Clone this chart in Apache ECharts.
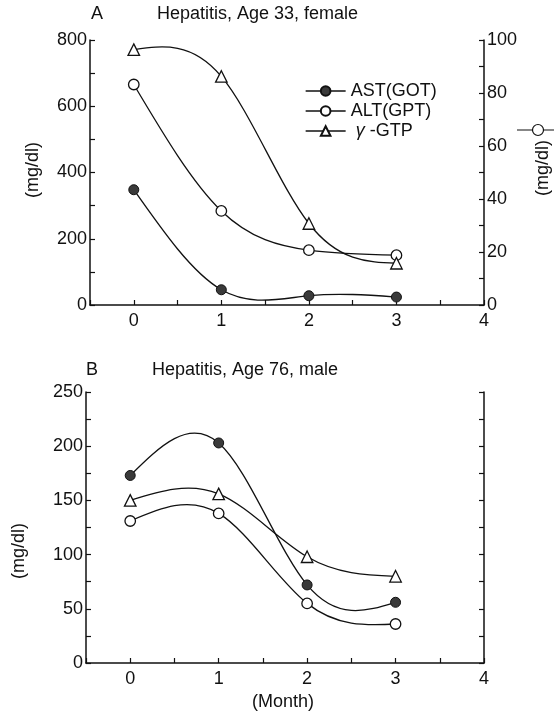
<!DOCTYPE html>
<html>
<head>
<meta charset="utf-8">
<script src="https://cdn.jsdelivr.net/npm/echarts@6/dist/echarts.min.js"></script>
<style>
  html, body { margin: 0; padding: 0; background: #fff; }
  #chart { width: 554px; height: 712px; }
</style>
</head>
<body>
<div id="chart"></div>
<script>
// ---- data ----
var months = [0, 1, 2, 3];
var seriesNames = ['AST(GOT)', 'ALT(GPT)', 'γ-GTP'];
// Panel A: Hepatitis, Age 33, female
var astA = [348, 46, 28, 24];        // left axis (mg/dl)
var altA = [83.2, 35.5, 20.7, 18.8]; // right axis (mg/dl)
var gtpA = [771, 690, 246, 126];     // left axis (mg/dl)
// Panel B: Hepatitis, Age 76, male
var astB = [173, 203, 72, 56];
var altB = [131, 138, 55, 36];
var gtpB = [150, 156, 98, 80];
// tick labels
var xTicks = [0, 1, 2, 3, 4];
var yTicksALeft = [0, 200, 400, 600, 800];
var yTicksARight = [0, 20, 40, 60, 80, 100];
var yTicksB = [0, 50, 100, 150, 200, 250];

function pairs(vals) { return months.map(function (m, i) { return [m, vals[i]]; }); }
function only(list) { return function (v) { return list.indexOf(v) >= 0 ? String(v) : ''; }; }

var FONT = 'Liberation Sans, Arial, sans-serif';
var FS = 18;
var BLACK = '#111';

var styles = {
  'AST(GOT)': { symbol: 'circle', symbolSize: 10, itemStyle: { color: '#3a3a3a', borderColor: '#111', borderWidth: 1 } },
  'ALT(GPT)': { symbol: 'circle', symbolSize: 10.5, itemStyle: { color: '#fff', borderColor: '#111', borderWidth: 1.3 } },
  'γ-GTP':    { symbol: 'triangle', symbolSize: 11.5, itemStyle: { color: '#fff', borderColor: '#111', borderWidth: 1.3 } }
};

// natural cubic spline slopes (data space) for x = months (uniform spacing)
function splineSlopes(xs, ys) {
  var n = ys.length - 1, h = xs[1] - xs[0];
  var M = new Array(n + 1).fill(0);
  var a = [], b = [], c = [], d = [];
  for (var i = 1; i < n; i++) {
    a.push(1); b.push(4); c.push(1);
    d.push(6 * (ys[i + 1] - 2 * ys[i] + ys[i - 1]) / (h * h));
  }
  var m = d.length;
  for (var k = 1; k < m; k++) {
    var w = a[k] / b[k - 1];
    b[k] -= w * c[k - 1];
    d[k] -= w * d[k - 1];
  }
  var sol = new Array(m);
  for (k = m - 1; k >= 0; k--) sol[k] = (d[k] - (k < m - 1 ? c[k] * sol[k + 1] : 0)) / b[k];
  for (k = 0; k < m; k++) M[k + 1] = sol[k];
  var s = [];
  for (i = 0; i < n; i++) s.push((ys[i + 1] - ys[i]) / h - h * (2 * M[i] + M[i + 1]) / 6);
  s.push((ys[n] - ys[n - 1]) / h + h * (M[n - 1] + 2 * M[n]) / 6);
  return s;
}

function curveSeries(vals, xi, yi) {
  var slopes = splineSlopes(months, vals);
  return {
    type: 'custom', coordinateSystem: 'cartesian2d', xAxisIndex: xi, yAxisIndex: yi,
    data: pairs(vals), silent: true, clip: false, z: 1,
    renderItem: function (params, api) {
      if (params.dataIndex !== 0) return null;
      var children = [];
      for (var i = 0; i < months.length - 1; i++) {
        var h = months[i + 1] - months[i];
        var p0 = api.coord([months[i], vals[i]]);
        var p3 = api.coord([months[i + 1], vals[i + 1]]);
        var c1 = api.coord([months[i] + h / 3, vals[i] + slopes[i] * h / 3]);
        var c2 = api.coord([months[i + 1] - h / 3, vals[i + 1] - slopes[i + 1] * h / 3]);
        children.push({
          type: 'bezierCurve',
          shape: { x1: p0[0], y1: p0[1], x2: p3[0], y2: p3[1], cpx1: c1[0], cpy1: c1[1], cpx2: c2[0], cpy2: c2[1] },
          style: { stroke: BLACK, lineWidth: 1.3, fill: null }
        });
      }
      return { type: 'group', children: children };
    }
  };
}

function markSeries(name, vals, xi, yi) {
  var s = styles[name];
  return {
    name: name, type: 'line', xAxisIndex: xi, yAxisIndex: yi,
    data: pairs(vals),
    symbol: s.symbol, symbolSize: s.symbolSize, showSymbol: true,
    itemStyle: s.itemStyle,
    lineStyle: { color: BLACK, width: 0, opacity: 0 },
    emphasis: { disabled: true }, z: name === 'AST(GOT)' ? 4 : 3
  };
}

function xAxis(gi) {
  return {
    type: 'value', gridIndex: gi, min: -0.5, max: 4, interval: 0.5,
    axisLine: { show: true, onZero: false, lineStyle: { color: BLACK, width: 1.5 } },
    axisTick: { show: true, inside: true, length: 5, lineStyle: { color: BLACK, width: 1.2 } },
    axisLabel: { formatter: only(xTicks), color: BLACK, fontSize: FS, fontFamily: FONT, margin: 7 },
    splitLine: { show: false }
  };
}
function yAxis(gi, max, interval, labels, pos, showLabels) {
  return {
    type: 'value', gridIndex: gi, min: 0, max: max, interval: interval, position: pos,
    axisLine: { show: true, onZero: false, lineStyle: { color: BLACK, width: 1.5 } },
    axisTick: { show: true, inside: true, length: 5, lineStyle: { color: BLACK, width: 1.2 } },
    axisLabel: { show: showLabels, formatter: only(labels), color: BLACK, fontSize: FS, fontFamily: FONT, margin: 3 },
    splitLine: { show: false }
  };
}

function txt(x, y, text, opts) {
  opts = opts || {};
  return {
    type: 'text', x: x, y: y, rotation: opts.rot || 0, silent: true,
    style: { text: text, fill: BLACK, font: (opts.size || FS) + 'px ' + FONT,
             align: opts.align || 'left', verticalAlign: 'middle' }
  };
}

var chart = echarts.init(document.getElementById('chart'), null, { renderer: 'canvas' });
chart.setOption({
  backgroundColor: '#fff',
  animation: false,
  textStyle: { fontFamily: FONT },
  grid: [
    { left: 90, top: 40, width: 394, height: 265 },
    { left: 86, top: 392, width: 398, height: 271 }
  ],
  xAxis: [xAxis(0), xAxis(1)],
  yAxis: [
    yAxis(0, 800, 100, yTicksALeft, 'left', true),
    yAxis(0, 100, 10, yTicksARight, 'right', true),
    yAxis(1, 250, 25, yTicksB, 'left', true),
    yAxis(1, 250, 25, yTicksB, 'right', false)
  ],
  legend: {
    data: seriesNames, orient: 'vertical', left: 300, top: 77,
    itemWidth: 40, itemHeight: 12, itemGap: 2,
    selectedMode: false,
    lineStyle: { color: BLACK, width: 1.3, opacity: 1 },
    textStyle: { color: BLACK, fontSize: FS, fontFamily: FONT,
      rich: { g: { fontStyle: 'italic', fontSize: FS, fontFamily: FONT, color: BLACK } } },
    formatter: function (n) { return n === 'γ-GTP' ? ' {g|γ} -GTP' : n; }
  },
  series: [
    curveSeries(astA, 0, 0),
    curveSeries(altA, 0, 1),
    curveSeries(gtpA, 0, 0),
    curveSeries(astB, 1, 2),
    curveSeries(altB, 1, 2),
    curveSeries(gtpB, 1, 2),
    markSeries('AST(GOT)', astA, 0, 0),
    markSeries('ALT(GPT)', altA, 0, 1),
    markSeries('γ-GTP', gtpA, 0, 0),
    markSeries('AST(GOT)', astB, 1, 2),
    markSeries('ALT(GPT)', altB, 1, 2),
    markSeries('γ-GTP', gtpB, 1, 2)
  ],
  graphic: [
    txt(91, 14, 'A'),
    txt(157, 14, 'Hepatitis, Age 33, female'),
    txt(86, 370, 'B'),
    txt(152, 370, 'Hepatitis, Age 76, male'),
    txt(33, 170, '(mg/dl)', { rot: Math.PI / 2, align: 'center' }),
    txt(19, 551, '(mg/dl)', { rot: Math.PI / 2, align: 'center' }),
    txt(543, 168, '(mg/dl)', { rot: Math.PI / 2, align: 'center' }),
    txt(283, 702, '(Month)', { align: 'center' }),
    { type: 'line', silent: true, shape: { x1: 517, y1: 130, x2: 554, y2: 130 }, style: { stroke: BLACK, lineWidth: 1.2 } },
    { type: 'circle', silent: true, shape: { cx: 538, cy: 130, r: 5.5 }, style: { fill: '#fff', stroke: BLACK, lineWidth: 1.2 }, z: 10 }
  ]
});
</script>
</body>
</html>
